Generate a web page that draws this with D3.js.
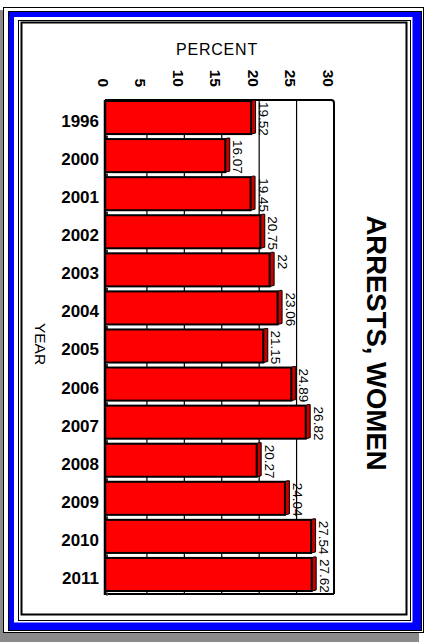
<!DOCTYPE html>
<html><head><meta charset="utf-8">
<script src="https://cdn.jsdelivr.net/npm/d3@7"></script>
<style>html,body{margin:0;padding:0;background:#fff;}svg{display:block;font-family:"Liberation Sans",Arial,sans-serif;}</style>
</head><body>
<svg id="chart" width="428" height="642"></svg>
<script>
const years = ["1996","2000","2001","2002","2003","2004","2005","2006","2007","2008","2009","2010","2011"];
const values = [19.52,16.07,19.45,20.75,22,23.06,21.15,24.89,26.82,20.27,24.04,27.54,27.62];
const tickValues = [0,5,10,15,20,25,30];
const gridValues = [5,10,15,20,25];
const chartTitle = "ARRESTS, WOMEN";
const xTitle = "PERCENT";
const yTitle = "YEAR";

const svg = d3.select("#chart");

// ---- frame ----
svg.append("rect").attr("x",0).attr("y",10).attr("width",419).attr("height",632).attr("fill","#8a8a8a");
svg.append("rect").attr("x",3.5).attr("y",7.5).attr("width",420).attr("height",625).attr("fill","#fff").attr("stroke","#000");
svg.append("rect").attr("x",8.5).attr("y",11.5).attr("width",413).attr("height",619).attr("fill","#0000ff").attr("stroke","#000");
svg.append("rect").attr("x",14).attr("y",17).attr("width",398.5).attr("height",605.5).attr("fill","#fff");
svg.append("rect").attr("x",18.5).attr("y",20.5).attr("width",392).attr("height",600).attr("fill","none").attr("stroke","#000");
svg.append("rect").attr("x",21.5).attr("y",22.5).attr("width",385).attr("height",592).attr("fill","#fff").attr("stroke","#000").attr("stroke-width",2);

// ---- scales ----
const depth = 4.5;
const x = d3.scaleLinear().domain([0,30]).range([105, 329.5]);
const y = d3.scaleBand().domain(years).range([100, 595]);
const plotTop = 100, plotBottom = 594;

const g = svg.append("g");

// back gridlines
g.selectAll("line.grid").data(gridValues).join("line")
  .attr("x1", d => x(d)+depth).attr("x2", d => x(d)+depth)
  .attr("y1", plotTop).attr("y2", plotBottom)
  .attr("stroke","#000").attr("stroke-width",1.2);

// plot border
g.append("path")
  .attr("d", `M${x(0)},${plotTop} L${x(30)+depth-3},${plotTop} Q${x(30)+depth},${plotTop} ${x(30)+depth},${plotTop+3} L${x(30)+depth},${plotBottom}`)
  .attr("fill","none").attr("stroke","#000").attr("stroke-width",2);
g.append("line").attr("x1",x(0)).attr("x2",x(30)+depth).attr("y1",plotBottom).attr("y2",plotBottom)
  .attr("stroke","#000").attr("stroke-width",2);

// bars
const bh = y.bandwidth() - 5;
const bars = g.selectAll("g.bar").data(years.map((yr,i)=>({yr, v: values[i]}))).join("g");
// 3D side face
bars.append("path")
  .attr("d", d => {
    const x0 = x(d.v), y0 = y(d.yr)+1;
    return `M${x0},${y0} L${x0+2},${y0-1} L${x0+4.5},${y0-1} L${x0+4.5},${y0+bh-1} L${x0},${y0+bh} Z`;
  })
  .attr("fill","#c40000").attr("stroke","#000").attr("stroke-width",1);
bars.append("rect")
  .attr("x", x(0)).attr("y", d => y(d.yr)+1)
  .attr("width", d => x(d.v)-x(0)).attr("height", bh)
  .attr("fill","#ff0000").attr("stroke","#000").attr("stroke-width",2);
// small marks at axis in gaps
bars.append("rect")
  .attr("x", x(0)+1).attr("y", d => y(d.yr)+bh+2.5)
  .attr("width",2).attr("height",3).attr("fill","#333");

// left axis line
g.append("line").attr("x1",x(0)).attr("x2",x(0)).attr("y1",plotTop).attr("y2",plotBottom+1)
  .attr("stroke","#000").attr("stroke-width",2.5);

// value labels
bars.append("text")
  .attr("transform", d => `translate(${x(d.v)+8},${y(d.yr)+2}) rotate(90)`)
  .attr("text-anchor","start")
  .attr("font-size","13.5px")
  .attr("fill","#000")
  .text(d => String(d.v));

// year labels
g.selectAll("text.year").data(years).join("text")
  .attr("x", 99).attr("y", d => y(d) + y.bandwidth()/2 + 2)
  .attr("dy","0.35em").attr("text-anchor","end")
  .attr("font-size","17px").attr("font-weight","bold")
  .text(d => d);

// tick labels
g.selectAll("text.tick").data(tickValues).join("text")
  .attr("transform", d => `translate(${x(d)-1.5},87) rotate(90)`)
  .attr("dy","0.35em").attr("text-anchor","end")
  .attr("font-size","15.5px").attr("font-weight","bold")
  .text(d => d);

// axis titles
svg.append("text").attr("x",217).attr("y",55).attr("text-anchor","middle")
  .attr("font-size","16px").attr("letter-spacing","0.8px").text(xTitle);
svg.append("text").attr("transform","translate(40,344) rotate(90)")
  .attr("dy","0.35em").attr("text-anchor","middle")
  .attr("font-size","15.5px").text(yTitle);

// chart title
svg.append("text").attr("transform","translate(377,343) rotate(90)")
  .attr("dy","0.35em").attr("text-anchor","middle")
  .attr("font-size","27.5px").attr("font-weight","bold").text(chartTitle);
</script>
</body></html>
